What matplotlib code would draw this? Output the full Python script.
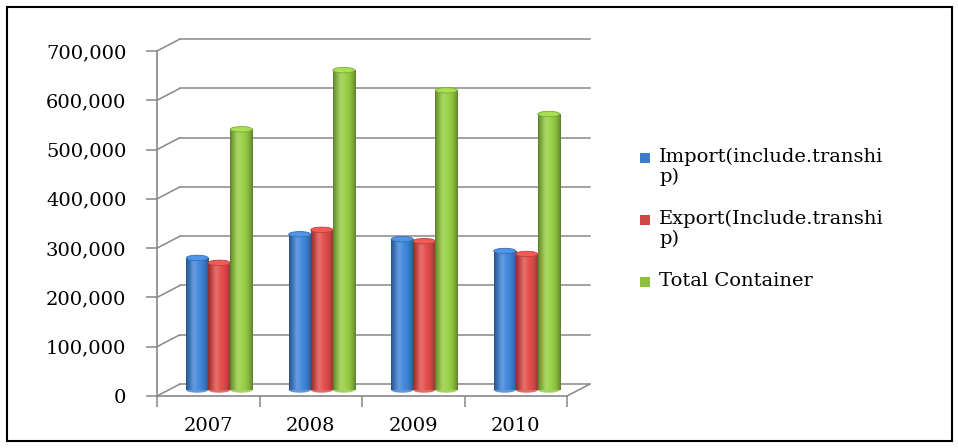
import numpy as np
import matplotlib
matplotlib.use("Agg")
import matplotlib.pyplot as plt
import matplotlib.transforms as mtransforms
from matplotlib.patches import Ellipse, Rectangle, ConnectionPatch
from matplotlib.ticker import FuncFormatter, FixedLocator

# --- data (TEU) ---
years = ["2007", "2008", "2009", "2010"]
import_teu = [268000, 316000, 306000, 282000]
export_teu = [258000, 325000, 302000, 276000]
total_teu = [529000, 649000, 608000, 560000]
series_labels = ["Import(include.transhi\np)", "Export(Include.transhi\np)", "Total Container"]
series_colors = ["#3d7cc9", "#d04845", "#8cbf40"]
y_ticks = [0, 100000, 200000, 300000, 400000, 500000, 600000, 700000]

plt.rcParams["font.family"] = ["DejaVu Serif"]
grid_col = "#878787"
W, H = 958, 448

fig = plt.figure(figsize=(W / 100, H / 100), dpi=100)
fig.patch.set_facecolor("white")
ax = fig.add_axes([157 / W, (H - 396) / H, 410 / W, 345 / H])
ax.set_facecolor("none")

# fake depth: back wall and middle (bar) planes are shifted in pixels
back = mtransforms.offset_copy(ax.transData, fig=fig, x=23, y=12, units="dots")
mid = mtransforms.offset_copy(ax.transData, fig=fig, x=11, y=6, units="dots")

n = len(years)
x0, x1 = -0.5, n - 0.5

# back wall grid + connectors to the front axis
for v in y_ticks:
    ax.plot([x0, x1], [v, v], transform=back, color=grid_col, lw=1.1, clip_on=False, zorder=1)
    fig.add_artist(ConnectionPatch(xyA=(x0, v), coordsA=ax.transData, xyB=(x0, v), coordsB=back,
                                   color=grid_col, lw=1.1, zorder=1))
# right edge of the floor
fig.add_artist(ConnectionPatch(xyA=(x1, 0), coordsA=ax.transData, xyB=(x1, 0), coordsB=back,
                               color=grid_col, lw=1.1, zorder=1))


def shade_row(color):
    base = np.array(matplotlib.colors.to_rgb(color))
    t = np.linspace(0, 1, 64)
    f = 0.64 + 0.46 * np.sin(np.pi * t) ** 0.7
    rgb = np.clip(base[None, :] * f[:, None], 0, 1)
    hl = 0.18 * np.exp(-((t - 0.35) / 0.14) ** 2)
    rgb = rgb + (1 - rgb) * hl[:, None]
    return rgb[None, :, :]


w = 0.215
xs = np.arange(n)
all_series = [import_teu, export_teu, total_teu]
ell_h = 11000
for j, (vals, col) in enumerate(zip(all_series, series_colors)):
    pos = xs + (j - 1) * w
    bars = ax.bar(pos, vals, width=w, color=col, transform=mid, zorder=3 + j)
    grad = shade_row(col)
    for rect, xc, v in zip(bars, pos, vals):
        ax.add_patch(Ellipse((xc, 0), w, ell_h, transform=mid,
                             facecolor=grad[0, 20], edgecolor="none", zorder=3 + j))
        im = ax.imshow(grad, extent=[xc - w / 2, xc + w / 2, 0, v], aspect="auto",
                       transform=mid, zorder=3.1 + j, interpolation="bilinear")
        im.set_clip_path(rect)
        top = np.clip(np.array(matplotlib.colors.to_rgb(col)) * 1.12 + 0.04, 0, 1)
        ax.add_patch(Ellipse((xc, v), w, ell_h, transform=mid,
                             facecolor=top, edgecolor=grad[0, 8], lw=0.6, zorder=3.2 + j))

ax.set_xlim(x0, x1)
ax.set_ylim(0, 700000)

# axes styling
for s in ["top", "right"]:
    ax.spines[s].set_visible(False)
for s in ["left", "bottom"]:
    ax.spines[s].set_color(grid_col)
    ax.spines[s].set_linewidth(1.2)

ax.yaxis.set_major_locator(FixedLocator(y_ticks))
ax.yaxis.set_major_formatter(FuncFormatter(lambda v, p: f"{int(v):,}"))
ax.tick_params(axis="y", length=8, width=1.1, color=grid_col, pad=14, labelsize=14)

ax.xaxis.set_major_locator(FixedLocator(np.arange(n + 1) - 0.5))
ax.set_xticklabels([""] * (n + 1))
ax.set_xticks(xs, minor=True)
ax.set_xticklabels(years, minor=True)
ax.tick_params(axis="x", which="major", length=8, width=1.1, color=grid_col)
ax.tick_params(axis="x", which="minor", length=0, pad=15, labelsize=14)

# legend: square marker aligned with the first line of each label
leg_y = [158, 220, 282]
for lab, col, yc in zip(series_labels, series_colors, leg_y):
    fig.add_artist(Rectangle((640 / W, 1 - (yc + 5) / H), 10 / W, 10 / H,
                             transform=fig.transFigure, facecolor=col, edgecolor="none"))
    fig.text(659 / W, 1 - (yc - 10) / H, lab, fontsize=14, va="top", ha="left",
             linespacing=1.12)

# outer frame
fig.add_artist(Rectangle((7 / W, 7 / H), 945 / W, 434 / H, transform=fig.transFigure,
                         fill=False, edgecolor="black", lw=1.5))

fig.savefig("out.png", dpi=100)
